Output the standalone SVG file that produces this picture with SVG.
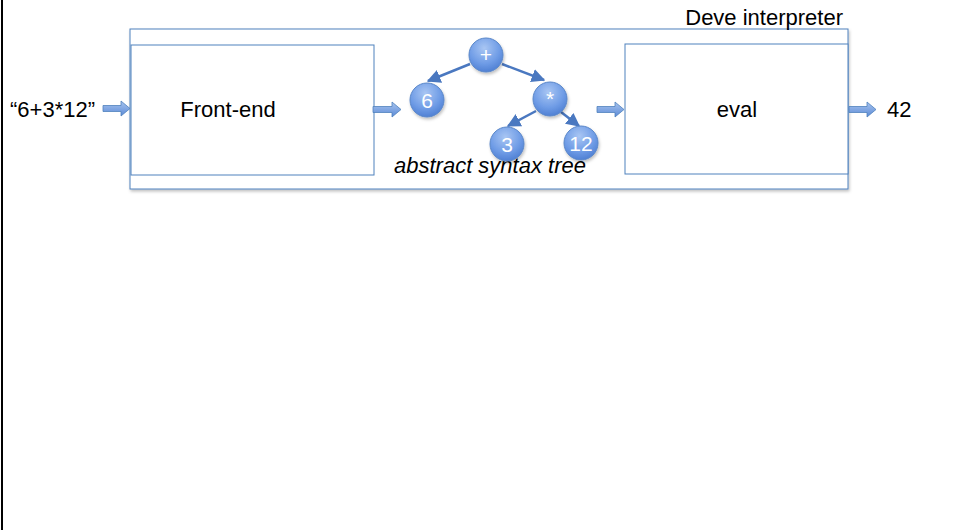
<svg xmlns="http://www.w3.org/2000/svg" width="954" height="530" viewBox="0 0 954 530">
<defs>
<radialGradient id="ball" cx="0.45" cy="0.3" r="0.75">
<stop offset="0" stop-color="#a9c6f3"/>
<stop offset="0.6" stop-color="#6f9ce6"/>
<stop offset="1" stop-color="#4a7bd0"/>
</radialGradient>
<linearGradient id="barrow" x1="0" y1="0" x2="0" y2="1">
<stop offset="0" stop-color="#a8c4ef"/>
<stop offset="1" stop-color="#5b8ad6"/>
</linearGradient>
<marker id="ah" viewBox="0 0 10 10" refX="9" refY="5" markerWidth="5.5" markerHeight="5.5" orient="auto">
<path d="M0,0 L10,5 L0,10 z" fill="#4a78c0"/>
</marker>
<filter id="sh" x="-10%" y="-10%" width="130%" height="130%">
<feDropShadow dx="1" dy="2" stdDeviation="1.5" flood-color="#000" flood-opacity="0.25"/>
</filter>
</defs>
<style>
.box{fill:#fff;stroke:#4f81bd;stroke-width:1}
.t{font-family:"Liberation Sans",Arial,sans-serif;font-size:22px;fill:#000}
.nt{font-family:"Liberation Sans",Arial,sans-serif;font-size:21px;fill:#fff;text-anchor:middle}
.node{fill:url(#ball);stroke:#5a87c9;stroke-width:1}
.edge{stroke:#4a78c0;stroke-width:2.5;fill:none}
.barr{fill:url(#barrow);stroke:#4f81bd;stroke-width:0.8}
</style>
<rect x="0" y="0" width="954" height="530" fill="#fff"/>
<rect x="1" y="0" width="2" height="530" fill="#000"/>

<g id="interpreter">
<rect class="box" x="130" y="29" width="718" height="160" filter="url(#sh)"/>
<text class="t" x="843" y="25" text-anchor="end">Deve interpreter</text>
</g>
<g id="frontend">
<rect class="box" x="131" y="45" width="243" height="130"/>
<text class="t" x="228" y="117" text-anchor="middle">Front-end</text>
</g>
<g id="eval">
<rect class="box" x="625" y="44" width="223" height="130"/>
<text class="t" x="737" y="117" text-anchor="middle">eval</text>
</g>
<g id="input">
<text class="t" x="10" y="117">“6+3*12”</text>
</g>
<g id="output">
<text class="t" x="887" y="117">42</text>
</g>
<g id="ast-label">
<text class="t" x="490" y="173" text-anchor="middle" font-style="italic">abstract syntax tree</text>
</g>

<g id="connectors">
<line class="edge" x1="470" y1="64" x2="428" y2="81" marker-end="url(#ah)"/>
<line class="edge" x1="502" y1="64" x2="544" y2="80" marker-end="url(#ah)"/>
<line class="edge" x1="536" y1="111" x2="508" y2="126" marker-end="url(#ah)"/>
<line class="edge" x1="561" y1="112" x2="579" y2="126" marker-end="url(#ah)"/>
<path class="barr" d="M103,105.5 H121 V101 L130,108.5 L121,116 V111.5 H103 Z"/>
<path class="barr" d="M373,106.5 H392 V102 L401,109.5 L392,117 V112.5 H373 Z"/>
<path class="barr" d="M597,106.5 H615 V102 L624,109.5 L615,117 V112.5 H597 Z"/>
<path class="barr" d="M849,106.5 H867 V102 L876,109.5 L867,117 V112.5 H849 Z"/>
</g>

<g id="node-plus">
<circle class="node" cx="486" cy="55" r="17" filter="url(#sh)"/>
<text class="nt" x="486" y="62">+</text>
</g>
<g id="node-6">
<circle class="node" cx="427" cy="100" r="17" filter="url(#sh)"/>
<text class="nt" x="427" y="107.5">6</text>
</g>
<g id="node-star">
<circle class="node" cx="550" cy="99" r="17" filter="url(#sh)"/>
<text class="nt" x="550" y="106">*</text>
</g>
<g id="node-3">
<circle class="node" cx="507" cy="144" r="17" filter="url(#sh)"/>
<text class="nt" x="507" y="151.5">3</text>
</g>
<g id="node-12">
<circle class="node" cx="581" cy="143" r="17" filter="url(#sh)"/>
<text class="nt" x="581" y="150.5">12</text>
</g>
</svg>
